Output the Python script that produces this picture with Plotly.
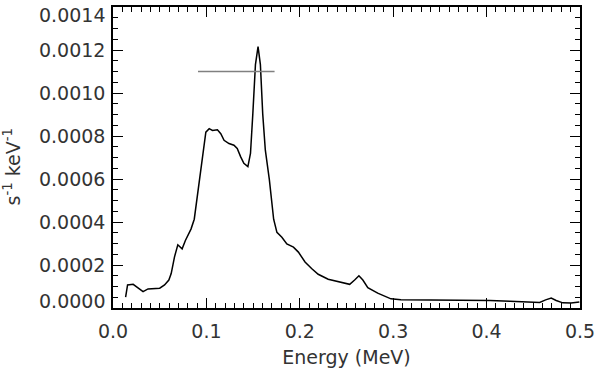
import plotly.graph_objects as go

energy = [0.0135, 0.0156, 0.0216, 0.0269, 0.0322, 0.0375, 0.0446, 0.0500, 0.0552, 0.0598,
          0.0623, 0.0658, 0.0694, 0.0740, 0.0775, 0.0835, 0.0870, 0.0906, 0.0959, 0.0994,
          0.1030, 0.1065, 0.1118, 0.1154, 0.1189, 0.1242, 0.1295, 0.1330, 0.1366, 0.1401,
          0.1444, 0.1472, 0.1497, 0.1525, 0.1553, 0.1578, 0.1603, 0.1631, 0.1674, 0.1695,
          0.1720, 0.1755, 0.1808, 0.1861, 0.1932, 0.1985, 0.2056, 0.2126, 0.2197, 0.2304,
          0.2410, 0.2534, 0.2587, 0.2633, 0.2675, 0.2728, 0.2834, 0.2976, 0.3082, 0.3436,
          0.3790, 0.4037, 0.4250, 0.4462, 0.4568, 0.4632, 0.4692, 0.4745, 0.4816, 0.4904,
          0.4993]
rate = [0.0000505, 0.000107, 0.000110, 0.000092, 0.0000765, 0.0000886, 0.0000918, 0.000092, 0.000107, 0.000130,
        0.000160, 0.000237, 0.000294, 0.000275, 0.000314, 0.000367, 0.000413, 0.000536, 0.000719, 0.000818,
        0.000834, 0.000826, 0.000829, 0.000811, 0.000780, 0.000765, 0.000757, 0.000742, 0.000704, 0.000673,
        0.000658, 0.000719, 0.000903, 0.001132, 0.001216, 0.001132, 0.000903, 0.000734, 0.000597, 0.000505,
        0.000413, 0.000352, 0.000329, 0.000298, 0.000283, 0.000260, 0.000214, 0.000184, 0.000157, 0.000134,
        0.000122, 0.000110, 0.000130, 0.000150, 0.000130, 0.000095, 0.000069, 0.0000427, 0.000038, 0.000038,
        0.000038, 0.000035, 0.000031, 0.000026, 0.000026, 0.000038, 0.000046, 0.000035, 0.000024, 0.000023,
        0.000028]

fwhm_x = [0.091, 0.173]
fwhm_y = [0.0011, 0.0011]

x_ticks = [0.0, 0.1, 0.2, 0.3, 0.4, 0.5]
x_labels = ["0.0", "0.1", "0.2", "0.3", "0.4", "0.5"]
y_ticks = [0.0, 0.0002, 0.0004, 0.0006, 0.0008, 0.0010, 0.0012, 0.0014]
y_labels = ["0.0000", "0.0002", "0.0004", "0.0006", "0.0008", "0.0010", "0.0012", "0.0014"]

FONT = "DejaVu Sans"
FS = 19
TXT = "#333333"

fig = go.Figure()
fig.add_trace(go.Scatter(x=energy, y=rate, mode="lines",
                         line=dict(color="black", width=1.5), showlegend=False))
fig.add_trace(go.Scatter(x=fwhm_x, y=fwhm_y, mode="lines",
                         line=dict(color="#808080", width=1.5), showlegend=False))

axis_common = dict(showline=True, linecolor="black", linewidth=1.5, mirror="ticks",
                   ticks="inside", ticklen=10, tickwidth=1, tickcolor="black",
                   showgrid=False, zeroline=False,
                   tickfont=dict(family=FONT, size=FS, color=TXT))

fig.update_xaxes(range=[0, 0.5], tickvals=x_ticks, ticktext=x_labels,
                 minor=dict(dtick=0.01, ticks="inside", ticklen=5, tickcolor="black", showgrid=False),
                 ticklabelstandoff=5,
                 title=dict(text="Energy (MeV)", font=dict(family=FONT, size=FS, color=TXT), standoff=10),
                 **axis_common)
y_text = [""] + y_labels[1:-1] + [""]
fig.update_yaxes(range=[0, 0.0014], tickvals=y_ticks, ticktext=y_text,
                 minor=dict(dtick=0.00005, ticks="inside", ticklen=5, tickcolor="black", showgrid=False),
                 ticklabelstandoff=2,
                 **axis_common)

fig.add_annotation(xref="paper", yref="y", x=0, y=y_ticks[0], text=y_labels[0],
                   xanchor="right", yanchor="middle", xshift=-6, yshift=7, showarrow=False,
                   font=dict(family=FONT, size=FS, color=TXT))
fig.add_annotation(xref="paper", yref="y", x=0, y=y_ticks[-1], text=y_labels[-1],
                   xanchor="right", yanchor="middle", xshift=-6, yshift=-8, showarrow=False,
                   font=dict(family=FONT, size=FS, color=TXT))
fig.add_annotation(xref="paper", yref="paper", x=0, y=0.47, text="s<sup>-1</sup> keV<sup>-1</sup>",
                   textangle=-90, xanchor="center", yanchor="middle", xshift=-101, showarrow=False,
                   font=dict(family=FONT, size=FS, color=TXT))

fig.update_layout(width=600, height=370, margin=dict(l=113, r=16, t=5, b=61),
                  plot_bgcolor="white", paper_bgcolor="white")

fig.write_html("out.html", config={"displayModeBar": False},
               post_script="document.body.style.margin='0';")
